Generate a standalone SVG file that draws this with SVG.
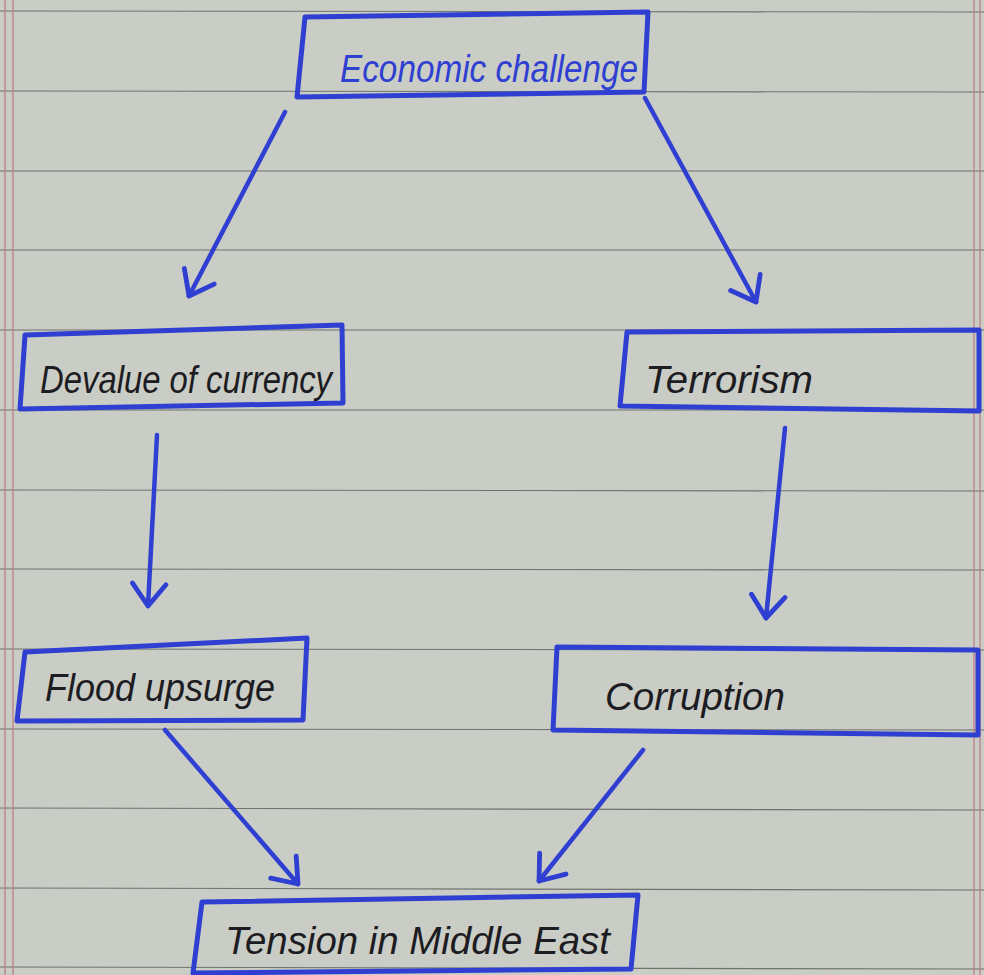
<svg xmlns="http://www.w3.org/2000/svg" width="984" height="975" viewBox="0 0 984 975">
<style>
.paper{fill:#c9cdc5}
.rule{stroke:#4a4d4a;stroke-width:1.2;opacity:0.7}
.margin{stroke:#c07880;stroke-width:1.2}
.box{fill:none;stroke:#2f3fd2;stroke-width:5;stroke-linejoin:round}
.lbl{font-family:"Liberation Sans","DejaVu Sans",sans-serif;font-style:italic;font-size:38px;fill:#1c1c22}
.lbl.blue{fill:#2f3fd2}
.conn{fill:none;stroke:#2f3fd2;stroke-width:4.5;stroke-linecap:round;stroke-linejoin:round}
</style>
<defs>
<marker id="arrow" viewBox="0 0 20 20" refX="17" refY="10" markerWidth="12" markerHeight="12" markerUnits="userSpaceOnUse" orient="auto" overflow="visible">
<path d="M-20,-18 L17,10 L-20,38" fill="none" stroke="#2f3fd2" stroke-width="8" stroke-linecap="round" stroke-linejoin="round"/>
</marker>
</defs>
<rect class="paper" x="0" y="0" width="984" height="975"/>
<g id="ruling">
<line class="rule" x1="0" y1="11" x2="984" y2="12"/>
<line class="rule" x1="0" y1="91" x2="984" y2="92"/>
<line class="rule" x1="0" y1="171" x2="984" y2="171"/>
<line class="rule" x1="0" y1="250" x2="984" y2="250"/>
<line class="rule" x1="0" y1="330" x2="984" y2="330"/>
<line class="rule" x1="0" y1="410" x2="984" y2="410"/>
<line class="rule" x1="0" y1="490" x2="984" y2="491"/>
<line class="rule" x1="0" y1="569" x2="984" y2="570"/>
<line class="rule" x1="0" y1="649" x2="984" y2="650"/>
<line class="rule" x1="0" y1="729" x2="984" y2="730"/>
<line class="rule" x1="0" y1="808" x2="984" y2="810"/>
<line class="rule" x1="0" y1="888" x2="984" y2="890"/>
<line class="rule" x1="0" y1="967" x2="984" y2="969"/>
<line class="margin" x1="5" y1="0" x2="5" y2="975"/>
<line class="margin" x1="13" y1="0" x2="13" y2="975"/>
<line class="margin" x1="974" y1="0" x2="974" y2="975"/>
<line class="margin" x1="980" y1="0" x2="980" y2="975"/>
</g>
<g id="connectors">
<path class="conn" d="M285,112 L189,296" marker-end="url(#arrow)"/>
<path class="conn" d="M645,98 L756,302" marker-end="url(#arrow)"/>
<path class="conn" d="M157,435 L148,606" marker-end="url(#arrow)"/>
<path class="conn" d="M785,428 L766,618" marker-end="url(#arrow)"/>
<path class="conn" d="M165,730 L298,884" marker-end="url(#arrow)"/>
<path class="conn" d="M643,750 L539,881" marker-end="url(#arrow)"/>
</g>
<g id="economic-challenge">
<polygon class="box" points="305,17 648,12 644,92 297,97"/>
<text class="lbl blue" x="340" y="82" textLength="298" lengthAdjust="spacingAndGlyphs">Economic challenge</text>
</g>
<g id="devalue-of-currency">
<polygon class="box" points="25,335 342,325 343,403 20,409"/>
<text class="lbl" x="40" y="393" textLength="292" lengthAdjust="spacingAndGlyphs">Devalue of currency</text>
</g>
<g id="terrorism">
<polygon class="box" points="627,332 979,330 979,411 620,406"/>
<text class="lbl" x="645" y="393" textLength="168" lengthAdjust="spacingAndGlyphs">Terrorism</text>
</g>
<g id="flood-upsurge">
<polygon class="box" points="25,652 307,638 303,720 17,721"/>
<text class="lbl" x="45" y="701" textLength="230" lengthAdjust="spacingAndGlyphs">Flood upsurge</text>
</g>
<g id="corruption">
<polygon class="box" points="557,647 978,650 978,735 553,730"/>
<text class="lbl" x="605" y="710" textLength="180" lengthAdjust="spacingAndGlyphs">Corruption</text>
</g>
<g id="tension-in-middle-east">
<polygon class="box" points="202,902 638,895 631,969 193,973"/>
<text class="lbl" x="225" y="954" textLength="385" lengthAdjust="spacingAndGlyphs">Tension in Middle East</text>
</g>
</svg>
